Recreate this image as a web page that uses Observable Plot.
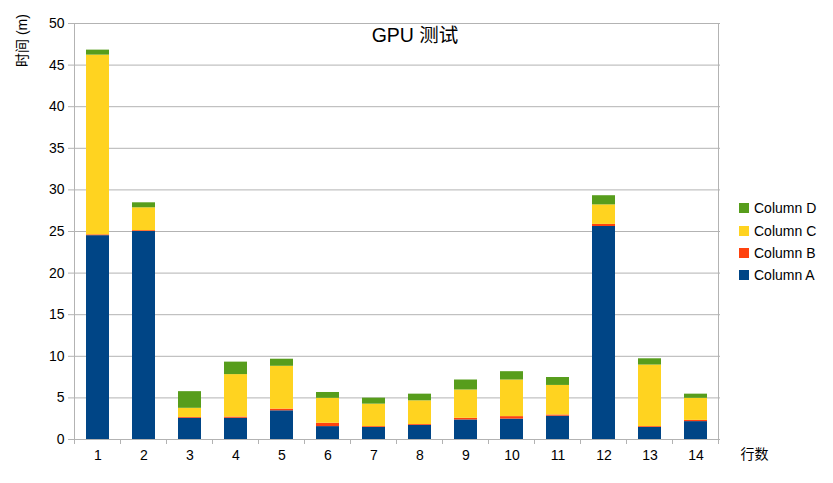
<!DOCTYPE html>
<html><head><meta charset="utf-8">
<script src="https://cdn.jsdelivr.net/npm/d3@7"></script>
<script src="https://cdn.jsdelivr.net/npm/@observablehq/plot@0.6"></script>
<style>
body{margin:0;background:#fff;}
#wrap{position:relative;width:833px;height:483px;font-family:"Liberation Sans","Noto Sans CJK SC",sans-serif;}
#legend{position:absolute;left:739px;top:197px;font-size:14px;color:#000;}
.item{display:flex;align-items:center;height:22.4px;}
.sw{width:10px;height:10px;margin-right:5px;}
</style></head><body><div id="wrap"><div id="legend"></div></div>
<script>
const rows = ["1","2","3","4","5","6","7","8","9","10","11","12","13","14"];
const series = ["Column A","Column B","Column C","Column D"];
const colors = ["#004586","#ff420e","#ffd320","#579d1c"];
const colA = [24.5, 25.0, 2.55, 2.55, 3.45, 1.55, 1.45, 1.7, 2.35, 2.45, 2.8, 25.6, 1.45, 2.15];
const colB = [0.1, 0.1, 0.1, 0.15, 0.2, 0.4, 0.1, 0.1, 0.2, 0.3, 0.15, 0.25, 0.1, 0.15];
const colC = [21.6, 2.75, 1.1, 5.1, 5.15, 3.0, 2.7, 2.85, 3.4, 4.4, 3.55, 2.35, 7.4, 2.65];
const colD = [0.6, 0.6, 2.0, 1.5, 0.85, 0.7, 0.72, 0.8, 1.2, 1.0, 0.95, 1.1, 0.75, 0.5];
const yTicks = [0,5,10,15,20,25,30,35,40,45,50];
const title = "GPU 测试";
const yLabel = "时间 (m)";
const xLabel = "行数";

const data = [];
rows.forEach((r,i)=>{ [colA,colB,colC,colD].forEach((arr,j)=>data.push({row:r, series:series[j], value:arr[i]})); });

const font = '"Liberation Sans","Noto Sans CJK SC",sans-serif';
const plot = Plot.plot({
  width:833, height:483, marginLeft:73, marginRight:113, marginTop:23, marginBottom:44,
  style:{fontFamily:font, fontSize:"14px", color:"#000", background:"#fff"},
  x:{domain:rows, paddingInner:0.5, paddingOuter:0.25},
  y:{domain:[0,50]},
  color:{domain:series, range:colors},
  marks:[
    Plot.gridY(yTicks, {stroke:"#b3b3b3", strokeOpacity:1}),
    Plot.barY(data, {x:"row", y:"value", fill:"series"}),
    Plot.axisY(yTicks, {tickSize:5, tickPadding:4, stroke:"#b3b3b3", strokeOpacity:1, label:null, fontSize:14}),
    Plot.axisX({tickSize:0, tickPadding:11, label:null, fontSize:14}),
    Plot.text([title], {frameAnchor:"top", dx:18, dy:12, fontSize:19.5, textAnchor:"middle", lineAnchor:"middle"}),
    Plot.text([yLabel], {frameAnchor:"top-left", dx:-51, dy:17, rotate:-90, fontSize:14, textAnchor:"middle", lineAnchor:"middle"}),
    Plot.text([xLabel], {frameAnchor:"bottom-right", dx:34, dy:15, fontSize:14, textAnchor:"middle", lineAnchor:"middle"})
  ]
});
document.getElementById("wrap").prepend(plot);

const xs = plot.scale("x"), ys = plot.scale("y");
const step = xs.step, bw = xs.bandwidth;
const y0 = ys.apply(0), yTop = ys.apply(50);
const g = d3.select(plot).append("g").attr("stroke","#b3b3b3").attr("stroke-width",1);
const bounds = rows.map(r => xs.apply(r) - (step-bw)/2);
bounds.push(xs.apply(rows[rows.length-1]) + bw + (step-bw)/2);
bounds.forEach(b => g.append("line").attr("x1",b).attr("x2",b).attr("y1",y0).attr("y2",y0+5));
[bounds[0], bounds[bounds.length-1]].forEach(b => g.append("line").attr("x1",b).attr("x2",b).attr("y1",yTop).attr("y2",y0));

const legend = d3.select("#legend");
series.slice().reverse().forEach((s) => {
  const it = legend.append("div").attr("class","item");
  it.append("div").attr("class","sw").style("background", plot.scale("color").apply(s));
  it.append("span").text(s);
});
</script></body></html>
